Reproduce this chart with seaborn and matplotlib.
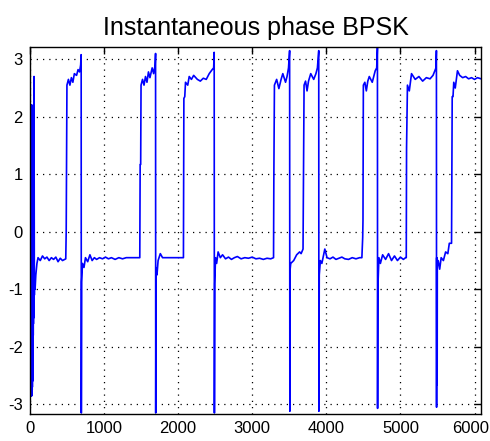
import matplotlib
matplotlib.use("Agg")
import matplotlib.pyplot as plt
import matplotlib.transforms as mtransforms
import seaborn as sns
import pandas as pd

# ---- data (sample index, instantaneous phase in rad) ----
burst_x = [0, 1, 2, 3, 4, 5, 6, 7, 8, 9, 10, 11, 12, 13, 14, 15, 16, 17, 18, 19, 20, 21, 22,
           23, 24, 25, 26, 27, 28, 29, 30, 31, 32, 33, 34, 35, 36, 37, 38, 39, 40, 41, 42, 43,
           44, 45, 46, 47, 48, 49, 50, 51, 52, 56, 60, 64, 70, 80, 95]
burst_y = [2.2, -2.85, 2.2, -2.8, 2.15, -2.85, 2.2, -2.7, 2.1, -2.85, 2.2, -2.8, 2.2, -2.85,
           2.0, -2.75, 2.2, -2.85, 2.1, -2.8, 2.2, -2.85, 1.9, -2.7, 2.2, -2.8, 2.1, -2.85,
           2.0, -2.6, 2.2, -2.75, 2.1, -2.7, 2.0, -2.6, 1.9, -2.5, 1.7, -2.4, 1.6, -2.2, 1.4,
           -2.0, 1.2, -1.8, 1.0, -1.6, 0.8, -1.5, 0.5, -1.3, 0.2, 2.7, -1.1, -0.8, -1.0,
           -0.75, -0.55]

seg1_x = [110, 140, 170, 200, 230, 260, 290, 320, 350, 380, 410, 440, 470, 484,
          490, 500, 520, 540, 560, 580, 600, 630, 650, 670, 685, 692]
seg1_y = [-0.45, -0.5, -0.42, -0.47, -0.44, -0.5, -0.45, -0.48, -0.44, -0.52, -0.46, -0.5, -0.48, -0.47,
          0.0, 2.55, 2.65, 2.55, 2.68, 2.6, 2.75, 2.72, 2.82, 2.78, 2.9, 3.08]

seg2_x = [694, 698, 710, 730, 750, 780, 810, 840, 870, 900, 940, 980, 1020, 1060, 1100, 1150,
          1200, 1250, 1300, 1350, 1400, 1483, 1488, 1495, 1500, 1520, 1540, 1560, 1580, 1600,
          1620, 1650, 1670, 1690, 1696]
seg2_y = [-3.15, -0.87, -0.55, -0.62, -0.45, -0.52, -0.4, -0.5, -0.45, -0.48, -0.45, -0.47, -0.44,
          -0.47, -0.45, -0.48, -0.45, -0.47, -0.45, -0.45, -0.45, -0.45, 1.17, 1.17, 2.55, 2.65,
          2.55, 2.7, 2.6, 2.78, 2.68, 2.85, 2.75, 2.9, 3.1]

seg3_x = [1698, 1702, 1715, 1730, 1760, 1790, 1830, 1900, 1980, 2072, 2078, 2090, 2100, 2130,
          2150, 2180, 2210, 2260, 2300, 2340, 2380, 2420, 2460, 2480, 2487]
seg3_y = [-3.15, -0.63, -0.75, -0.5, -0.38, -0.45, -0.45, -0.45, -0.45, -0.45, 2.32, 2.35, 2.6,
          2.55, 2.7, 2.65, 2.72, 2.65, 2.62, 2.67, 2.65, 2.75, 2.82, 2.85, 3.12]

seg4_x = [2490, 2495, 2505, 2520, 2540, 2570, 2600, 2640, 2680, 2720, 2760, 2800, 2850, 2900,
          2950, 3000, 3050, 3100, 3150, 3200, 3250, 3288, 3292, 3300, 3330, 3360, 3390, 3413,
          3450, 3470, 3490, 3505]
seg4_y = [-3.15, -0.9, -0.45, -0.55, -0.35, -0.45, -0.4, -0.47, -0.44, -0.48, -0.45, -0.43,
          -0.47, -0.45, -0.46, -0.44, -0.47, -0.46, -0.48, -0.46, -0.47, -0.45, 0.9, 2.55, 2.65,
          2.49, 2.65, 2.75, 2.6, 2.7, 2.85, 3.15]

seg5_x = [3508, 3512, 3520, 3560, 3600, 3640, 3660, 3686, 3690, 3700, 3720, 3740, 3760, 3790,
          3830, 3860, 3880, 3898]
seg5_y = [-3.12, -0.65, -0.55, -0.5, -0.4, -0.35, -0.38, -0.3, 0.54, 2.55, 2.62, 2.45, 2.62,
          2.75, 2.65, 2.75, 2.85, 3.15]

seg6_x = [3900, 3905, 3920, 3940, 3980, 4010, 4050, 4090, 4130, 4170, 4210, 4250, 4300, 4350,
          4400, 4450, 4480, 4491, 4495, 4500, 4520, 4540, 4560, 4580, 4620, 4660, 4680, 4690]
seg6_y = [-3.12, -0.75, -0.5, -0.55, -0.3, -0.45, -0.47, -0.44, -0.48, -0.46, -0.44, -0.47,
          -0.48, -0.45, -0.47, -0.45, -0.45, -0.1, 0.2, 2.55, 2.6, 2.45, 2.62, 2.7, 2.6, 2.8,
          2.85, 3.2]

seg7_x = [4692, 4695, 4710, 4730, 4760, 4800, 4840, 4880, 4920, 4960, 5000, 5040, 5070, 5079,
          5083, 5095, 5120, 5150, 5200, 5250, 5300, 5350, 5400, 5440, 5480, 5486]
seg7_y = [-3.07, -1.0, -0.45, -0.55, -0.4, -0.48, -0.38, -0.5, -0.42, -0.5, -0.44, -0.48,
          -0.45, -0.45, 1.46, 2.55, 2.45, 2.75, 2.65, 2.7, 2.62, 2.68, 2.66, 2.72, 2.85, 3.15]

seg8_x = [5488, 5490, 5492, 5494, 5496, 5498, 5510, 5530, 5550, 5580, 5610, 5640, 5660, 5690,
          5699, 5710, 5720, 5740, 5770, 5800, 5840, 5880, 5920, 5960, 6000, 6040, 6088]
seg8_y = [-3.05, -0.45, -2.66, -0.5, -2.6, -0.6, -0.5, -0.65, -0.45, -0.5, -0.35, -0.38, -0.2,
          -0.2, 2.35, 2.35, 2.6, 2.5, 2.8, 2.72, 2.68, 2.7, 2.66, 2.68, 2.65, 2.68, 2.66]

x_ticks = [0, 1000, 2000, 3000, 4000, 5000, 6000]
y_ticks = [-3, -2, -1, 0, 1, 2, 3]
title = "Instantaneous phase BPSK"

samples = burst_x + seg1_x + seg2_x + seg3_x + seg4_x + seg5_x + seg6_x + seg7_x + seg8_x
phase = burst_y + seg1_y + seg2_y + seg3_y + seg4_y + seg5_y + seg6_y + seg7_y + seg8_y
df = pd.DataFrame({"n": samples, "phase": phase})

sns.set_style("white")
plt.rcParams["font.family"] = ["Liberation Sans", "DejaVu Sans"]
plt.rcParams["path.simplify"] = False

fig = plt.figure(figsize=(4.9, 4.41), dpi=100)
ax = fig.add_axes([0.061, 0.061, 0.921, 0.832])

sns.lineplot(data=df, x="n", y="phase", ax=ax, color="#0000ff", linewidth=1.2,
             estimator=None, sort=False)

ax.set_xlim(0, 6090)
ax.set_ylim(-3.17, 3.21)
ax.set_xticks(x_ticks)
ax.set_yticks(y_ticks)
ax.set_xlabel("")
ax.set_ylabel("")

ax.set_xticklabels([str(v) for v in x_ticks], fontsize=12)
ax.set_yticklabels([str(v) for v in y_ticks], fontsize=12)

ax.tick_params(direction="in", length=5, width=1, top=True, right=True,
               colors="black", pad=5)
ax.grid(True, color="black", linestyle=(0, (1, 4)), linewidth=0.9)
for s in ax.spines.values():
    s.set_visible(True)
    s.set_color("black")
    s.set_linewidth(1.0)

# keep the last x tick label inside the canvas
last = ax.get_xticklabels()[-1]
last.set_transform(last.get_transform() +
                   mtransforms.ScaledTranslation(-4 / 100, 0, fig.dpi_scale_trans))

ax.set_title(title, fontsize=18, pad=9, color="black")

fig.savefig("out.png", dpi=100)
